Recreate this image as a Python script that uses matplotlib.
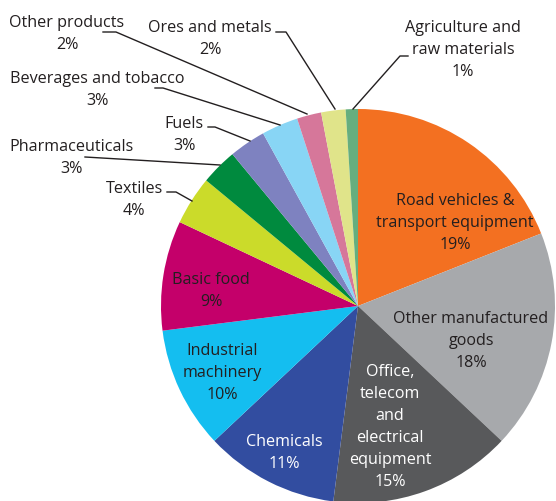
import matplotlib
matplotlib.use('Agg')
import matplotlib.pyplot as plt

plt.rcParams['font.family'] = ['Open Sans', 'DejaVu Sans']

# export shares by product group, clockwise from 12 o'clock
categories = ['Road vehicles &\ntransport equipment', 'Other manufactured\ngoods',
              'Office,\ntelecom\nand\nelectrical\nequipment', 'Chemicals',
              'Industrial\nmachinery', 'Basic food', 'Textiles', 'Pharmaceuticals',
              'Fuels', 'Beverages and tobacco', 'Other products', 'Ores and metals',
              'Agriculture and\nraw materials']
shares = [19, 18, 15, 11, 10, 9, 4, 3, 3, 3, 2, 2, 1]
colors = ['#F37021', '#A7A9AC', '#58595B', '#324DA0', '#14BEF0', '#C4006A',
          '#CBDB2A', '#008A3E', '#7E82C0', '#88D5F5', '#D6779A', '#E0E48A', '#66AE7E']

W, H = 556, 502
fig = plt.figure(figsize=(W / 100, H / 100), dpi=100)
ax = fig.add_axes([0, 0, 1, 1])

cx, cy, r = 358, H - 307, 197
ax.pie(shares, colors=colors, startangle=90, counterclock=False,
       center=(cx, cy), radius=r, wedgeprops=dict(linewidth=0), frame=True)
ax.set_xlim(0, W)
ax.set_ylim(0, H)
ax.set_aspect('equal')
ax.axis('off')

dark = '#231F20'
fs = 11.6
ls = 1.5

# labels inside the big wedges (x, y measured from the top-left corner)
inside = {0: (455, 223, dark), 1: (471, 341, dark), 2: (390, 427, 'white'),
          3: (284, 453, 'white'), 4: (222, 373, dark), 5: (211, 291, dark)}
for i, (x, y, c) in inside.items():
    ax.text(x, H - y, f'{categories[i]}\n{shares[i]}%', ha='center', va='center',
            fontsize=fs, color=c, linespacing=ls)

# small wedges get outside labels with leader lines
outside = {
    6: ((134, 200), [(167, 193), (176, 193), (192, 202)]),
    7: ((71, 158), [(85, 158), (220, 166)]),
    8: ((184, 135), [(208, 128), (215, 128), (250, 142)]),
    9: ((97, 90), [(155, 89), (163, 89), (280, 126)]),
    10: ((67, 34), [(103, 33), (116, 33), (307, 115)]),
    11: ((210, 39), [(276, 33), (286, 33), (335, 110)]),
    12: ((463, 50), [(408, 57), (400, 57), (353, 110)]),
}
for i, ((x, y), pts) in outside.items():
    ax.text(x, H - y, f'{categories[i]}\n{shares[i]}%', ha='center', va='center',
            fontsize=fs, color=dark, linespacing=ls)
    ax.plot([p[0] for p in pts], [H - p[1] for p in pts], color=dark, lw=1)

fig.savefig('out.png', dpi=100)
